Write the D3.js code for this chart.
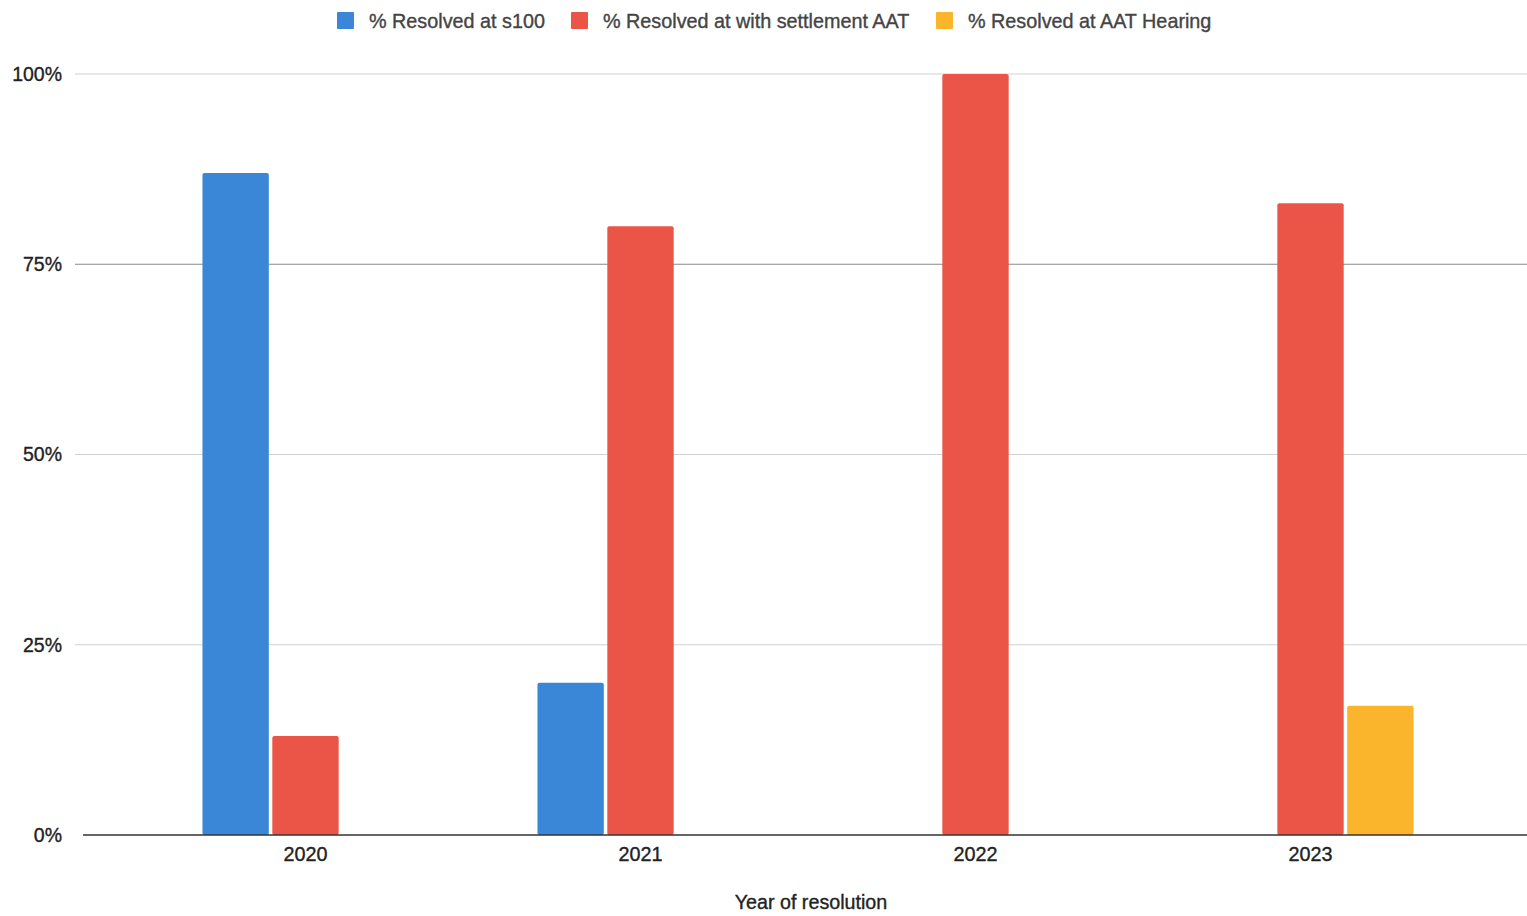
<!DOCTYPE html>
<html>
<head>
<meta charset="utf-8">
<script src="https://cdn.jsdelivr.net/npm/d3@7"></script>
<style>
  body { margin: 0; background: #fff; }
  text { font-family: "Liberation Sans", Arial, sans-serif; stroke-width: 0.35px; }
</style>
</head>
<body>
<div id="chart"></div>
<script>
// Data (percent of cases per year)
const years = ["2020", "2021", "2022", "2023"];
const seriesNames = [
  "% Resolved at s100",
  "% Resolved at with settlement AAT",
  "% Resolved at AAT Hearing"
];
const s100 = [87, 20, 0, 0];
const settlementAAT = [13, 80, 100, 83];
const aatHearing = [0, 0, 0, 17];
const yTicks = [0, 25, 50, 75, 100];
const colors = ["#3a87d8", "#eb5548", "#fbb52c"];

const width = 1527, height = 916;
const margin = { top: 74, right: 0, bottom: 81, left: 83 };

const svg = d3.select("#chart")
  .append("svg")
  .attr("width", width)
  .attr("height", height);

// y scale: 0% sits at y=835, 100% at y=74
const y = d3.scaleLinear()
  .domain([0, 100])
  .range([height - margin.bottom, margin.top]);

// x scales: outer for years, inner for the three series
const x0 = d3.scaleBand()
  .domain(years)
  .range([138, 1478])
  .paddingInner(0.364)
  .paddingOuter(0.182);

const x1 = d3.scaleBand()
  .domain(d3.range(seriesNames.length))
  .range([0, x0.bandwidth()])
  .padding(0.05);

// Gridlines
svg.append("g")
  .selectAll("line")
  .data(yTicks.filter((t) => t > 0))
  .enter()
  .append("line")
  .attr("x1", margin.left - 8)
  .attr("x2", width)
  .attr("y1", (d) => y(d))
  .attr("y2", (d) => y(d))
  .attr("stroke", (d) => (d === 75 ? "#8a8a8a" : "#d2d2d2"))
  .attr("stroke-width", 1.2);

// Y axis labels
svg.append("g")
  .selectAll("text")
  .data(yTicks)
  .enter()
  .append("text")
  .attr("x", 62)
  .attr("y", (d) => y(d))
  .attr("dy", "0.35em")
  .attr("text-anchor", "end")
  .attr("font-size", 19.5)
  .attr("fill", "#222")
  .attr("stroke", "#222")
  .text((d) => d + "%");

// Bars
const values = years.map((yr, i) => [s100[i], settlementAAT[i], aatHearing[i]]);

const groups = svg.append("g")
  .selectAll("g")
  .data(years)
  .enter()
  .append("g")
  .attr("transform", (d) => `translate(${x0(d)},0)`);

groups.selectAll("rect")
  .data((d, i) => values[i].map((v, k) => ({ k, v })).filter((e) => e.v > 0))
  .enter()
  .append("rect")
  .attr("x", (d) => x1(d.k))
  .attr("width", x1.bandwidth())
  .attr("y", (d) => y(d.v))
  .attr("height", (d) => y(0) - y(d.v))
  .attr("rx", 2)
  .attr("fill", (d) => colors[d.k]);

// Baseline (x axis)
svg.append("line")
  .attr("x1", margin.left)
  .attr("x2", width)
  .attr("y1", y(0))
  .attr("y2", y(0))
  .attr("stroke", "#333")
  .attr("stroke-width", 1.6);

// X axis labels, centered under the middle series
svg.append("g")
  .selectAll("text")
  .data(years)
  .enter()
  .append("text")
  .attr("x", (d) => x0(d) + x1(1) + x1.bandwidth() / 2)
  .attr("y", 861)
  .attr("text-anchor", "middle")
  .attr("font-size", 19.8)
  .attr("fill", "#222")
  .attr("stroke", "#222")
  .text((d) => d);

// X axis title
svg.append("text")
  .attr("x", 811)
  .attr("y", 909)
  .attr("text-anchor", "middle")
  .attr("font-size", 19.7)
  .attr("fill", "#222")
  .attr("stroke", "#222")
  .text("Year of resolution");

// Legend
const legendX = [337, 571, 936];
const legend = svg.append("g")
  .selectAll("g")
  .data(seriesNames)
  .enter()
  .append("g")
  .attr("transform", (d, i) => `translate(${legendX[i]},12)`);

legend.append("rect")
  .attr("width", 17)
  .attr("height", 17)
  .attr("rx", 1)
  .attr("fill", (d, i) => colors[i]);

legend.append("text")
  .attr("x", 32)
  .attr("y", 9)
  .attr("dy", "0.35em")
  .attr("font-size", 19.8)
  .attr("fill", "#444")
  .attr("stroke", "#444")
  .text((d) => d);
</script>
</body>
</html>
